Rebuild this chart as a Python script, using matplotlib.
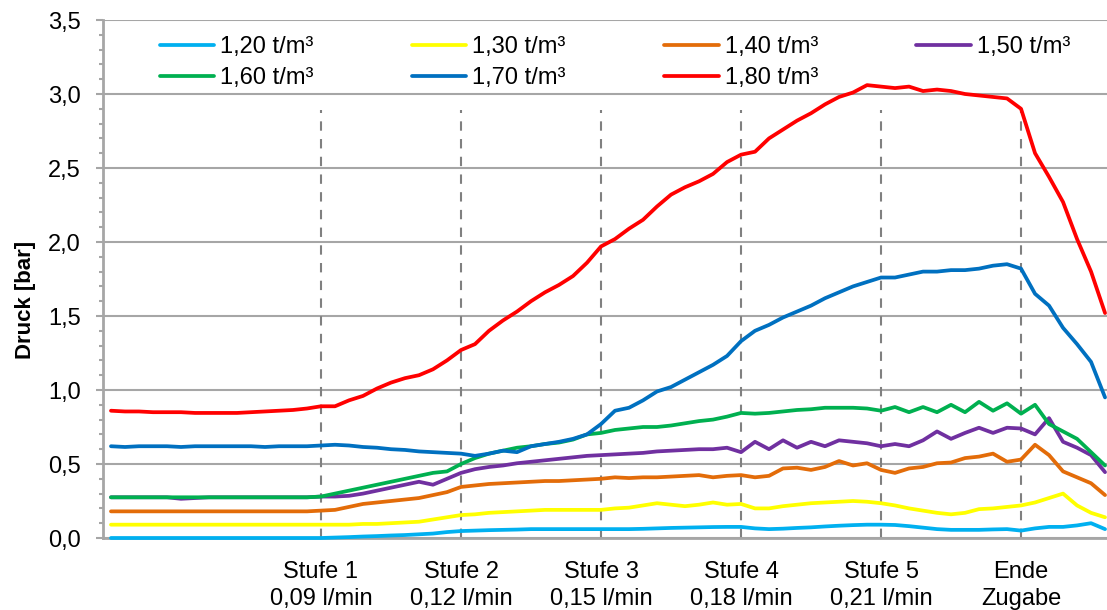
import matplotlib
matplotlib.use("Agg")
import matplotlib.pyplot as plt
import numpy as np

plt.rcParams['font.family'] = ['Liberation Sans', 'DejaVu Sans']

# measurement time steps (minutes)
minutes = np.arange(1, 73)

p_120 = [0.0, 0.0, 0.0, 0.0, 0.0, 0.0, 0.0, 0.0, 0.0, 0.0, 0.0, 0.0, 0.0, 0.0, 0.0, 0.0,
         0.003, 0.006, 0.01, 0.013, 0.017, 0.02, 0.025, 0.03, 0.04, 0.047, 0.05, 0.053,
         0.055, 0.057, 0.06, 0.06, 0.06, 0.06, 0.06, 0.06, 0.06, 0.06, 0.062, 0.065,
         0.068, 0.07, 0.072, 0.074, 0.075, 0.075, 0.065, 0.06, 0.063, 0.068, 0.072,
         0.078, 0.083, 0.087, 0.09, 0.09, 0.088, 0.08, 0.07, 0.06, 0.055, 0.055, 0.055,
         0.058, 0.06, 0.05, 0.065, 0.075, 0.075, 0.085, 0.10, 0.06]
p_130 = [0.09, 0.09, 0.09, 0.09, 0.09, 0.09, 0.09, 0.09, 0.09, 0.09, 0.09, 0.09, 0.09,
         0.09, 0.09, 0.09, 0.09, 0.09, 0.095, 0.095, 0.10, 0.105, 0.11, 0.125, 0.14,
         0.155, 0.16, 0.17, 0.175, 0.18, 0.185, 0.19, 0.19, 0.19, 0.19, 0.19, 0.20, 0.205,
         0.22, 0.235, 0.225, 0.215, 0.225, 0.24, 0.225, 0.23, 0.20, 0.20, 0.215, 0.225,
         0.235, 0.24, 0.245, 0.25, 0.245, 0.235, 0.22, 0.20, 0.185, 0.17, 0.16, 0.17,
         0.195, 0.20, 0.21, 0.22, 0.24, 0.27, 0.30, 0.22, 0.17, 0.14]
p_140 = [0.18, 0.18, 0.18, 0.18, 0.18, 0.18, 0.18, 0.18, 0.18, 0.18, 0.18, 0.18, 0.18,
         0.18, 0.18, 0.185, 0.19, 0.21, 0.23, 0.24, 0.25, 0.26, 0.27, 0.29, 0.31, 0.345,
         0.355, 0.365, 0.37, 0.375, 0.38, 0.385, 0.385, 0.39, 0.395, 0.40, 0.41, 0.405,
         0.41, 0.41, 0.415, 0.42, 0.425, 0.41, 0.42, 0.425, 0.41, 0.42, 0.47, 0.475,
         0.46, 0.48, 0.52, 0.49, 0.505, 0.46, 0.44, 0.47, 0.48, 0.505, 0.51, 0.54, 0.55,
         0.57, 0.515, 0.53, 0.63, 0.56, 0.45, 0.41, 0.37, 0.29]
p_150 = [0.275, 0.275, 0.275, 0.275, 0.275, 0.265, 0.27, 0.275, 0.275, 0.275, 0.275,
         0.275, 0.275, 0.275, 0.275, 0.28, 0.28, 0.285, 0.30, 0.32, 0.34, 0.36, 0.38,
         0.36, 0.40, 0.44, 0.465, 0.48, 0.49, 0.505, 0.515, 0.525, 0.535, 0.545, 0.555,
         0.56, 0.565, 0.57, 0.575, 0.585, 0.59, 0.595, 0.60, 0.60, 0.61, 0.58, 0.65, 0.60,
         0.66, 0.61, 0.65, 0.62, 0.66, 0.65, 0.64, 0.62, 0.635, 0.62, 0.66, 0.72, 0.67,
         0.71, 0.745, 0.71, 0.745, 0.74, 0.70, 0.81, 0.65, 0.61, 0.56, 0.445]
p_160 = [0.275, 0.275, 0.275, 0.275, 0.275, 0.275, 0.275, 0.275, 0.275, 0.275, 0.275,
         0.275, 0.275, 0.275, 0.275, 0.28, 0.30, 0.32, 0.34, 0.36, 0.38, 0.40, 0.42, 0.44,
         0.45, 0.50, 0.54, 0.57, 0.59, 0.61, 0.62, 0.635, 0.645, 0.665, 0.70, 0.71, 0.73,
         0.74, 0.75, 0.75, 0.76, 0.775, 0.79, 0.80, 0.82, 0.845, 0.84, 0.845, 0.855,
         0.865, 0.87, 0.88, 0.88, 0.88, 0.875, 0.86, 0.885, 0.85, 0.885, 0.85, 0.90, 0.85,
         0.92, 0.86, 0.91, 0.84, 0.90, 0.77, 0.72, 0.67, 0.58, 0.49]
p_170 = [0.62, 0.615, 0.62, 0.62, 0.62, 0.615, 0.62, 0.62, 0.62, 0.62, 0.62, 0.615, 0.62,
         0.62, 0.62, 0.625, 0.63, 0.625, 0.615, 0.61, 0.60, 0.595, 0.585, 0.58, 0.575,
         0.57, 0.555, 0.57, 0.59, 0.58, 0.62, 0.635, 0.65, 0.67, 0.70, 0.77, 0.86, 0.88,
         0.93, 0.99, 1.02, 1.07, 1.12, 1.17, 1.23, 1.33, 1.40, 1.44, 1.49, 1.53, 1.57,
         1.62, 1.66, 1.70, 1.73, 1.76, 1.76, 1.78, 1.80, 1.80, 1.81, 1.81, 1.82, 1.84,
         1.85, 1.82, 1.65, 1.57, 1.42, 1.31, 1.19, 0.95]
p_180 = [0.86, 0.855, 0.855, 0.85, 0.85, 0.85, 0.845, 0.845, 0.845, 0.845, 0.85, 0.855,
         0.86, 0.865, 0.875, 0.89, 0.89, 0.93, 0.96, 1.01, 1.05, 1.08, 1.10, 1.14, 1.20,
         1.27, 1.31, 1.40, 1.47, 1.53, 1.60, 1.66, 1.71, 1.77, 1.86, 1.97, 2.02, 2.09,
         2.15, 2.24, 2.32, 2.37, 2.41, 2.46, 2.54, 2.59, 2.61, 2.70, 2.76, 2.82, 2.87,
         2.93, 2.98, 3.01, 3.06, 3.05, 3.04, 3.05, 3.02, 3.03, 3.02, 3.00, 2.99, 2.98,
         2.97, 2.90, 2.60, 2.44, 2.27, 2.02, 1.80, 1.52]

labels = ['1,20 t/m³', '1,30 t/m³', '1,40 t/m³', '1,50 t/m³',
          '1,60 t/m³', '1,70 t/m³', '1,80 t/m³']
colors = ['#00B0F0', '#FFFF00', '#E36C09', '#7030A0', '#00B050', '#0070C0', '#FF0000']
series = [p_120, p_130, p_140, p_150, p_160, p_170, p_180]

# stage change markers and their captions
stage_pos = [16, 26, 36, 46, 56, 66]
stage_labels = ['Stufe 1\n0,09 l/min', 'Stufe 2\n0,12 l/min', 'Stufe 3\n0,15 l/min',
                'Stufe 4\n0,18 l/min', 'Stufe 5\n0,21 l/min', 'Ende\nZugabe']

fig = plt.figure(figsize=(11.07, 6.10), dpi=100)
ax = fig.add_axes([103 / 1107, 1 - 538 / 610, 1 - 103 / 1107, (538 - 20) / 610])

ax.set_xlim(0.43, 72.14)
ax.set_ylim(0, 3.5)

grid_c = '#A6A6A6'
ax.set_yticks(np.arange(0, 3.51, 0.5))
ax.set_yticklabels([f'{v:.1f}'.replace('.', ',') for v in np.arange(0, 3.51, 0.5)])
ax.set_yticks(np.arange(0, 3.51, 0.1), minor=True)
ax.tick_params(axis='y', which='major', length=5, width=1.5, color=grid_c,
               labelsize=17, pad=11)
ax.tick_params(axis='y', which='minor', length=3, width=1.5, color=grid_c)
ax.set_xticks([])
ax.yaxis.grid(True, which='major', color=grid_c, lw=1.5)
ax.set_axisbelow(True)

for s in ['top', 'right']:
    ax.spines[s].set_visible(False)
ax.spines['left'].set_color(grid_c)
ax.spines['left'].set_linewidth(2)
ax.spines['bottom'].set_color(grid_c)
ax.spines['bottom'].set_linewidth(2)

for xp, lab in zip(stage_pos, stage_labels):
    ax.plot([xp, xp], [0, 2.89], color='#808080', lw=1.5, ls=(0, (4.5, 4)), zorder=1)
    ax.text(xp, -0.155, lab, ha='center', va='top', fontsize=17, linespacing=1.3)

lines = []
for vals, col, lab in zip(series, colors, labels):
    ln, = ax.plot(minutes, vals, color=col, lw=2.7, label=lab, zorder=3,
                  clip_on=False, solid_joinstyle='round', solid_capstyle='round')
    lines.append(ln)

ax.set_ylabel('Druck [bar]', fontsize=16, fontweight='bold')
ax.yaxis.set_label_coords(-67 / 1004, (538 - 300) / 518)

# legend filled column by column: reorder so that rows read 1,20 ... 1,50 / 1,60 ... 1,80
order = [0, 4, 1, 5, 2, 6, 3]
leg = fig.legend([lines[i] for i in order], [labels[i] for i in order], ncol=4,
                 loc='upper left', bbox_to_anchor=(160 / 1107, 1 - 36 / 610),
                 frameon=False, fontsize=17, handlelength=2.3, handletextpad=0.25,
                 columnspacing=4.17, labelspacing=0.38, borderpad=0,
                 borderaxespad=0)

fig.savefig('out.png', dpi=100)
